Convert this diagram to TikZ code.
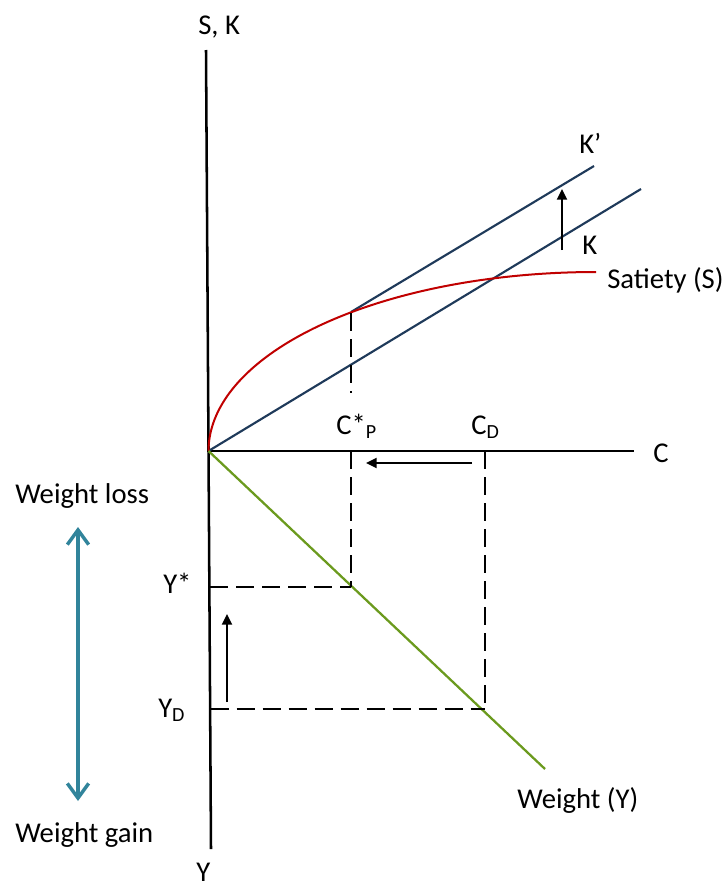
\documentclass[tikz,border=0pt]{standalone}
\usepackage{fontspec}
\setmainfont{Carlito}
\usetikzlibrary{arrows.meta}
\definecolor{navy}{HTML}{1F3A5A}
\definecolor{satred}{HTML}{C00000}
\definecolor{wgreen}{HTML}{6B9A1E}
\definecolor{tealblue}{HTML}{31849B}
\begin{document}
\begin{tikzpicture}[x=0.75pt,y=-0.75pt,
  axis/.style={line width=1.9pt, black},
  kline/.style={line width=1.6pt, navy},
  dashline/.style={line width=1.6pt, black, dash pattern=on 13.5pt off 6pt},
  shiftarrow/.style={line width=1.5pt, black, -{Triangle[length=8pt,width=7.5pt]}},
  lbl/.style={font=\fontsize{21.5}{25}\selectfont, inner sep=0pt, anchor=base west},
]
\useasboundingbox (0,0) rectangle (728,889);
% axes
\coordinate (O) at (208.5,451);
\coordinate (Vtop) at (206,50);
\coordinate (Vbot) at (211,849);
\coordinate (Hend) at (634,451);
\draw[axis] (Vtop) -- (Vbot);
\draw[axis] (O) -- (Hend);
% K lines
\coordinate (Kend) at (641,189);
\coordinate (Kp0) at (351,312);
\coordinate (Kpend) at (594,166);
\draw[kline] (O) -- (Kend);
\draw[kline] (Kp0) -- (Kpend);
% satiety curve (quarter ellipse)
\draw[line width=1.5pt, satred, domain=180:270, samples=120, smooth, variable=\t]
  plot ({596+387.5*cos(\t)}, {451+179*sin(\t)});
% weight line
\coordinate (Gend) at (545,769);
\draw[line width=1.7pt, wgreen] (O) -- (Gend);
% dashed guides
\coordinate (CPtop) at (351,313);
\coordinate (CPmid) at (351,393);
\coordinate (CPax) at (351,451);
\coordinate (Ystar) at (351,587);
\coordinate (CDax) at (485,451);
\coordinate (YD) at (485,709);
\coordinate (YstarAx) at (210,587);
\coordinate (YDAx) at (210.5,709);
\draw[dashline] (CPtop) -- (CPmid);
\draw[dashline] (CPax) -- (Ystar);
\draw[dashline] (CDax) -- (YD);
\draw[dashline] (YstarAx) -- (Ystar);
\draw[dashline] (YDAx) -- (YD);
% shift arrows
\coordinate (A1s) at (562,250);
\coordinate (A1e) at (562,189);
\coordinate (A2s) at (472,463);
\coordinate (A2e) at (366,463);
\coordinate (A3s) at (227,702);
\coordinate (A3e) at (227,614);
\draw[shiftarrow] (A1s) -- (A1e);
\draw[shiftarrow] (A2s) -- (A2e);
\draw[shiftarrow] (A3s) -- (A3e);
% weight loss / gain arrow
\coordinate (B1) at (78,527);
\coordinate (B2) at (78,801);
\draw[tealblue, line width=2.6pt,
  {Straight Barb[length=11pt,width=16pt]}-{Straight Barb[length=11pt,width=16pt]}] (B1) -- (B2);
% labels
\node[lbl] (lSK) at (198,34) {S, K};
\node[lbl] (lKp) at (579,153) {K’};
\node[lbl] (lK) at (582,254) {K};
\node[lbl] (lS) at (607,288) {Satiety (S)};
\node[lbl] (lCP) at (336,434) {C*\textsubscript{P}};
\node[lbl] (lCD) at (471,434) {C\textsubscript{D}};
\node[lbl] (lC) at (653,462) {C};
\node[lbl] (lYs) at (163,593) {Y*};
\node[lbl] (lYD) at (158,717) {Y\textsubscript{D}};
\node[lbl] (lWL) at (15,503) {Weight loss};
\node[lbl] (lWG) at (15,842) {Weight gain};
\node[lbl] (lWY) at (517,808) {Weight (Y)};
\node[lbl] (lY) at (196,881) {Y};
\end{tikzpicture}
\end{document}
